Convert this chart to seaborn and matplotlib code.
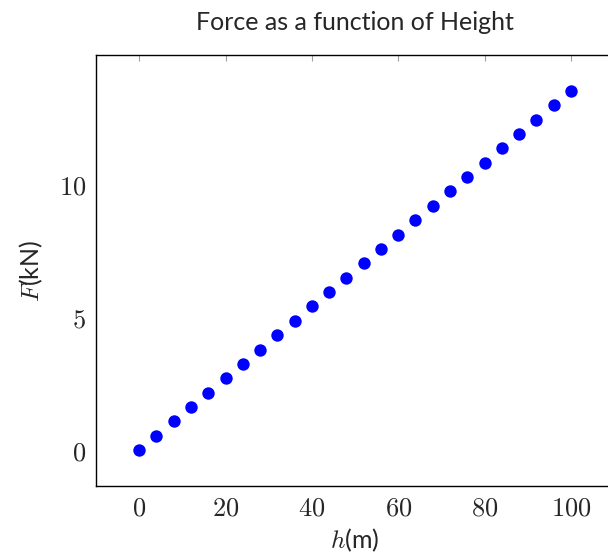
import matplotlib
matplotlib.use("Agg")
import matplotlib.pyplot as plt
import seaborn as sns
import pandas as pd

# Measured height (m) and resulting force (kN)
height_m = [0, 4, 8, 12, 16, 20, 24, 28, 32, 36, 40, 44, 48, 52,
            56, 60, 64, 68, 72, 76, 80, 84, 88, 92, 96, 100]
force_kn = [0.0, 0.54, 1.08, 1.62, 2.16, 2.70, 3.24, 3.78, 4.32, 4.86,
            5.40, 5.94, 6.48, 7.02, 7.56, 8.10, 8.64, 9.18, 9.72, 10.26,
            10.80, 11.34, 11.88, 12.42, 12.96, 13.50]
x_ticks = [0, 20, 40, 60, 80, 100]
y_ticks = [0, 5, 10]

sns.set_style("white")
plt.rcParams["font.family"] = ["Lato", "DejaVu Sans"]
plt.rcParams["mathtext.fontset"] = "cm"

df = pd.DataFrame({"h": height_m, "F": force_kn})

fig = plt.figure(figsize=(6.08, 5.59), dpi=100)
ax = fig.add_axes([96 / 608, 73 / 559, 518 / 608, 431 / 559])

sns.scatterplot(data=df, x="h", y="F", ax=ax, color="#0000ff",
                s=80, linewidth=0, zorder=3, clip_on=False)

ax.set_xlim(-10, 110)
ax.set_ylim(-1.35, 14.85)
ax.set_xticks(x_ticks)
ax.set_yticks(y_ticks)
ax.set_xticklabels([f"${t}$" for t in x_ticks], fontsize=19)
ax.set_yticklabels([f"${t}$" for t in y_ticks], fontsize=19)
ax.tick_params(axis="x", pad=7)
ax.tick_params(axis="y", pad=7)
ax.tick_params(direction="in", length=4, width=0.8, color="#a0a0a0",
               top=True, right=True)

for sp in ax.spines.values():
    sp.set_color("black")
    sp.set_linewidth(1.0)
ax.grid(False)

ax.set_xlabel("$h$(m)", fontsize=18, labelpad=4)
ax.set_ylabel("$F$(kN)", fontsize=18, labelpad=10)
ax.set_title("Force as a function of Height", fontsize=18, pad=18)

fig.savefig("out.png", dpi=100)
